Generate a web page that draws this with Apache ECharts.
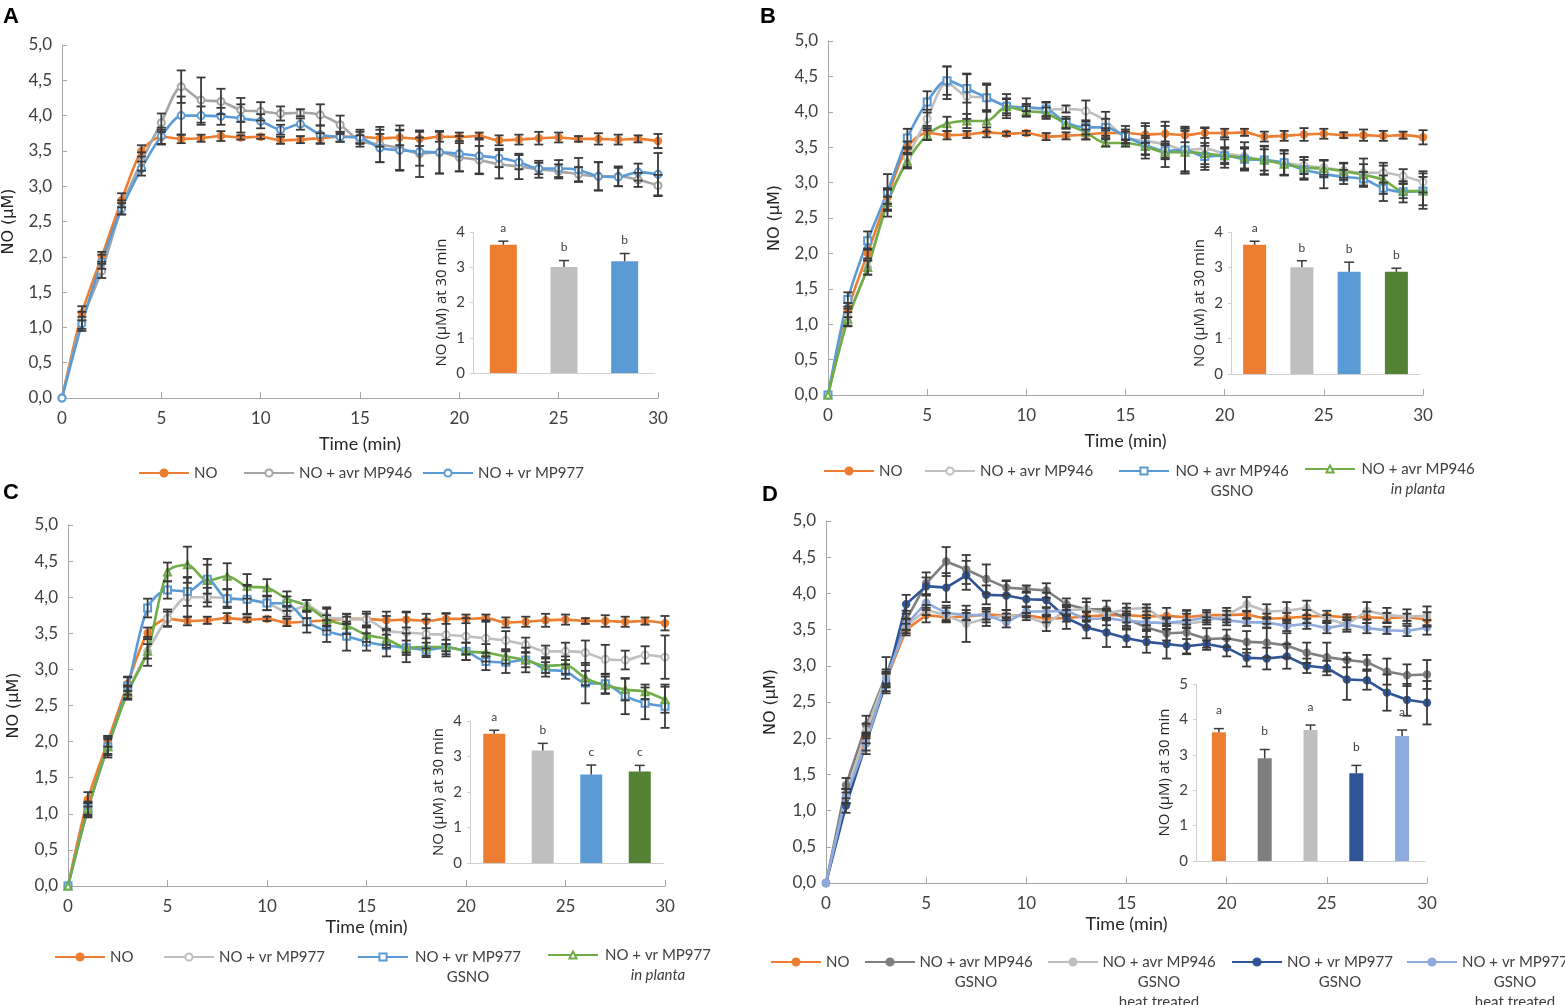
<!DOCTYPE html>
<html>
<head>
<meta charset="utf-8">
<script src="https://cdn.jsdelivr.net/npm/echarts@6/dist/echarts.min.js"></script>
<style>
  html, body { margin: 0; padding: 0; background: #fff; overflow: hidden; }
  #chart { width: 1565px; height: 1005px; }
</style>
</head>
<body>
<div id="chart"></div>
<script>
// time points (min)
const minutes = [0, 1, 2, 3, 4, 5, 6, 7, 8, 9, 10, 11, 12, 13, 14, 15, 16, 17, 18, 19, 20, 21, 22, 23, 24, 25, 26, 27, 28, 29, 30];

// NO (control)
const noMean = [0, 1.2, 2.0, 2.8, 3.5, 3.7, 3.67, 3.68, 3.71, 3.69, 3.7, 3.65, 3.66, 3.68, 3.7, 3.7, 3.68, 3.69, 3.67, 3.7, 3.7, 3.71, 3.65, 3.66, 3.68, 3.69, 3.67, 3.67, 3.66, 3.67, 3.64];
const noErr = [0, 0.1, 0.07, 0.1, 0.08, 0.1, 0.06, 0.05, 0.07, 0.03, 0.03, 0.05, 0.05, 0.07, 0.07, 0.1, 0.12, 0.11, 0.1, 0.07, 0.06, 0.05, 0.07, 0.07, 0.09, 0.07, 0.04, 0.08, 0.07, 0.05, 0.1];
// NO + avr MP946
const avrMean = [0, 1.1, 1.8, 2.7, 3.35, 3.9, 4.41, 4.22, 4.2, 4.08, 4.06, 4.03, 4.04, 4.01, 3.87, 3.64, 3.59, 3.54, 3.46, 3.48, 3.41, 3.37, 3.31, 3.28, 3.24, 3.21, 3.17, 3.14, 3.14, 3.09, 3.01];
const avrErr = [0, 0.12, 0.1, 0.1, 0.13, 0.13, 0.23, 0.32, 0.18, 0.17, 0.13, 0.1, 0.05, 0.15, 0.13, 0.08, 0.25, 0.32, 0.33, 0.3, 0.2, 0.2, 0.2, 0.18, 0.12, 0.1, 0.1, 0.2, 0.14, 0.1, 0.15];
// NO + vr MP977
const vrMean = [0, 1.05, 1.93, 2.68, 3.25, 3.71, 4.0, 4.0, 3.99, 3.96, 3.92, 3.8, 3.88, 3.73, 3.7, 3.69, 3.54, 3.51, 3.49, 3.48, 3.46, 3.43, 3.4, 3.34, 3.25, 3.25, 3.23, 3.14, 3.13, 3.2, 3.17];
const vrErr = [0, 0.1, 0.1, 0.08, 0.1, 0.12, 0.27, 0.13, 0.12, 0.2, 0.1, 0.07, 0.08, 0.13, 0.07, 0.08, 0.2, 0.28, 0.2, 0.3, 0.25, 0.25, 0.13, 0.1, 0.08, 0.12, 0.17, 0.2, 0.13, 0.12, 0.3];
// NO + avr MP946 GSNO
const avrGsnoMean = [0, 1.35, 2.18, 2.87, 3.63, 4.14, 4.44, 4.33, 4.2, 4.08, 4.06, 4.04, 3.85, 3.78, 3.78, 3.65, 3.53, 3.45, 3.46, 3.37, 3.38, 3.33, 3.32, 3.28, 3.18, 3.12, 3.08, 3.05, 2.92, 2.87, 2.88];
const avrGsnoErr = [0, 0.1, 0.13, 0.25, 0.13, 0.15, 0.2, 0.2, 0.2, 0.1, 0.05, 0.1, 0.08, 0.1, 0.12, 0.1, 0.13, 0.1, 0.3, 0.15, 0.12, 0.15, 0.2, 0.17, 0.14, 0.2, 0.1, 0.1, 0.18, 0.15, 0.2];
// NO + avr MP946 in planta
const avrPlantaMean = [0, 1.07, 1.8, 2.72, 3.3, 3.67, 3.83, 3.87, 3.87, 4.07, 4.01, 3.98, 3.83, 3.71, 3.56, 3.56, 3.51, 3.43, 3.43, 3.41, 3.38, 3.35, 3.32, 3.26, 3.21, 3.2, 3.16, 3.11, 3.04, 2.88, 2.88];
const avrPlantaErr = [0, 0.1, 0.1, 0.2, 0.1, 0.07, 0.1, 0.1, 0.15, 0.12, 0.07, 0.08, 0.07, 0.1, 0.05, 0.05, 0.12, 0.1, 0.3, 0.15, 0.1, 0.15, 0.15, 0.15, 0.15, 0.12, 0.12, 0.15, 0.2, 0.1, 0.25];
// NO + vr MP977 GSNO
const vrGsnoMean = [0, 1.07, 1.93, 2.77, 3.85, 4.1, 4.08, 4.25, 3.98, 3.97, 3.92, 3.91, 3.66, 3.53, 3.46, 3.38, 3.33, 3.3, 3.27, 3.3, 3.25, 3.11, 3.1, 3.13, 3.0, 2.97, 2.81, 2.8, 2.63, 2.53, 2.49];
const vrGsnoErr = [0, 0.1, 0.15, 0.12, 0.13, 0.12, 0.2, 0.2, 0.13, 0.2, 0.1, 0.1, 0.15, 0.15, 0.2, 0.12, 0.15, 0.2, 0.1, 0.05, 0.12, 0.12, 0.15, 0.17, 0.1, 0.1, 0.28, 0.13, 0.25, 0.22, 0.3];
// NO + vr MP977 in planta
const vrPlantaMean = [0, 1.07, 1.93, 2.68, 3.25, 4.35, 4.45, 4.23, 4.29, 4.15, 4.13, 3.98, 3.88, 3.69, 3.61, 3.48, 3.42, 3.3, 3.31, 3.31, 3.25, 3.23, 3.18, 3.13, 3.05, 3.06, 2.88, 2.78, 2.72, 2.69, 2.58];
const vrPlantaErr = [0, 0.08, 0.12, 0.1, 0.2, 0.13, 0.25, 0.3, 0.18, 0.17, 0.12, 0.1, 0.08, 0.15, 0.12, 0.1, 0.12, 0.1, 0.12, 0.1, 0.12, 0.12, 0.1, 0.1, 0.1, 0.12, 0.1, 0.12, 0.15, 0.1, 0.18];
// NO + avr MP946 GSNO heat treated
const avrHeatMean = [0, 1.2, 2.1, 2.85, 3.55, 3.77, 3.7, 3.58, 3.65, 3.7, 3.68, 3.58, 3.77, 3.78, 3.72, 3.78, 3.8, 3.6, 3.58, 3.62, 3.7, 3.85, 3.75, 3.76, 3.8, 3.65, 3.57, 3.76, 3.7, 3.68, 3.69];
const avrHeatErr = [0, 0.1, 0.1, 0.1, 0.1, 0.07, 0.1, 0.25, 0.1, 0.07, 0.05, 0.1, 0.07, 0.15, 0.07, 0.08, 0.05, 0.05, 0.05, 0.05, 0.1, 0.1, 0.1, 0.12, 0.1, 0.05, 0.1, 0.12, 0.1, 0.1, 0.13];
// NO + vr MP977 GSNO heat treated
const vrHeatMean = [0, 1.2, 1.93, 2.82, 3.57, 3.87, 3.73, 3.7, 3.7, 3.6, 3.75, 3.75, 3.76, 3.64, 3.66, 3.62, 3.6, 3.59, 3.62, 3.67, 3.63, 3.6, 3.6, 3.55, 3.58, 3.52, 3.57, 3.52, 3.49, 3.48, 3.53];
const vrHeatErr = [0, 0.1, 0.1, 0.1, 0.08, 0.1, 0.1, 0.07, 0.1, 0.07, 0.06, 0.05, 0.07, 0.1, 0.1, 0.1, 0.1, 0.08, 0.1, 0.07, 0.07, 0.05, 0.07, 0.07, 0.07, 0.07, 0.07, 0.07, 0.05, 0.07, 0.1];

// insets: NO at 30 min
const barAValues = [3.64, 3.01, 3.17];
const barAErr = [0.1, 0.18, 0.22];
const barALetters = ['a', 'b', 'b'];
const barBValues = [3.64, 3.01, 2.88, 2.88];
const barBErr = [0.1, 0.18, 0.27, 0.1];
const barBLetters = ['a', 'b', 'b', 'b'];
const barCValues = [3.64, 3.17, 2.49, 2.58];
const barCErr = [0.1, 0.2, 0.27, 0.17];
const barCLetters = ['a', 'b', 'c', 'c'];
const barDValues = [3.64, 2.9, 3.7, 2.48, 3.53];
const barDErr = [0.1, 0.25, 0.14, 0.22, 0.17];
const barDLetters = ['a', 'b', 'a', 'b', 'a'];

const timeTicks = [0, 5, 10, 15, 20, 25, 30];

const ORANGE = '#ED7D31', GRAY = '#A5A5A5', LGRAY = '#BFBFBF', BLUE = '#5B9BD5',
  GREEN = '#70AD47', DGREEN = '#548235', DGRAY = '#7F7F7F', NAVY = '#2F5597', LBLUE = '#8FAADC';
const TICKFONT = 'Lato, "Open Sans", sans-serif';
const AXISCOL = '#A6A6A6';
const ERRCOL = '#3A3A3A';

const chart = echarts.init(document.getElementById('chart'));

const grids = [
  { left: 62, top: 45, width: 596, height: 353 },    // A main
  { left: 473, top: 232, width: 182, height: 141 },  // A inset
  { left: 828, top: 41, width: 595, height: 354 },   // B main
  { left: 1231, top: 232, width: 189, height: 142 }, // B inset
  { left: 68, top: 525, width: 597, height: 361 },   // C main
  { left: 470, top: 721, width: 194, height: 142 },  // C inset
  { left: 826, top: 521, width: 601, height: 362 },  // D main
  { left: 1196, top: 684, width: 229, height: 177 }  // D inset
];

const xAxes = [], yAxes = [], series = [], legends = [];

function mainAxes (gi, nameGapX, nameGapY) {
  xAxes.push({
    gridIndex: gi, type: 'value', min: 0, max: 30, interval: 5,
    name: 'Time (min)', nameLocation: 'middle', nameGap: nameGapX,
    nameTextStyle: { fontFamily: TICKFONT, fontSize: 18, color: '#262626' },
    axisLine: { lineStyle: { color: AXISCOL } },
    axisTick: { show: true, inside: true, length: 6, lineStyle: { color: AXISCOL } },
    axisLabel: { fontFamily: TICKFONT, fontSize: 17, color: '#404040', margin: 12,
      customValues: timeTicks },
    splitLine: { show: false }
  });
  yAxes.push({
    gridIndex: gi, type: 'value', min: 0, max: 5, interval: 0.5,
    name: 'NO (µM)', nameLocation: 'middle', nameGap: nameGapY, nameRotate: 90,
    nameTextStyle: { fontFamily: '"DejaVu Sans", sans-serif', fontSize: 16, color: '#262626' },
    axisLine: { show: true, lineStyle: { color: AXISCOL } },
    axisTick: { show: true, inside: true, length: 5, lineStyle: { color: AXISCOL } },
    axisLabel: { fontFamily: TICKFONT, fontSize: 17, color: '#404040', margin: 10,
      formatter: v => v.toFixed(1).replace('.', ',') },
    splitLine: { show: false }
  });
}

function insetAxes (gi, names, yMax) {
  xAxes.push({
    gridIndex: gi, type: 'category', data: names,
    axisLine: { lineStyle: { color: '#D0D0D0' } },
    axisTick: { show: false }, axisLabel: { show: false }
  });
  yAxes.push({
    gridIndex: gi, type: 'value', min: 0, max: yMax, interval: 1,
    name: 'NO (µM) at 30 min', nameLocation: 'middle', nameGap: 24, nameRotate: 90,
    nameTextStyle: { fontFamily: '"Open Sans", sans-serif', fontSize: 15, color: '#262626' },
    axisLine: { show: true, lineStyle: { color: '#D0D0D0' } },
    axisTick: { show: true, length: 3, lineStyle: { color: '#D0D0D0' } },
    axisLabel: { fontFamily: TICKFONT, fontSize: 15, color: '#404040', margin: 8 },
    splitLine: { show: false }
  });
}

function errRender (params, api) {
  const e = api.value(2);
  if (!e) return null;
  const x = api.value(0), m = api.value(1);
  const top = api.coord([x, m + e]);
  const bot = api.coord([x, m - e]);
  const w = 4.5;
  const st = { stroke: ERRCOL, lineWidth: 1.8 };
  return {
    type: 'group',
    children: [
      { type: 'line', shape: { x1: top[0], y1: top[1], x2: bot[0], y2: bot[1] }, style: st },
      { type: 'line', shape: { x1: top[0] - w, y1: top[1], x2: top[0] + w, y2: top[1] }, style: st },
      { type: 'line', shape: { x1: bot[0] - w, y1: bot[1], x2: bot[0] + w, y2: bot[1] }, style: st }
    ]
  };
}

function addLine (gi, id, mean, err, color, symbol, smooth) {
  series.push({
    type: 'line', name: id, xAxisIndex: gi, yAxisIndex: gi,
    data: minutes.map((m, i) => [m, mean[i]]),
    symbol: symbol, symbolSize: 7, smooth: smooth,
    lineStyle: { color: color, width: 2.6 },
    itemStyle: { color: color, borderColor: color, borderWidth: 1.4 },
    emphasis: { disabled: true }, z: 2
  });
  series.push({
    type: 'custom', xAxisIndex: gi, yAxisIndex: gi, renderItem: errRender,
    data: minutes.map((m, i) => [m, mean[i], err[i]]),
    encode: { x: 0, y: 1 }, silent: true, z: 3
  });
}

function addBars (gi, values, errs, letters, colors, barWidth, letterGap) {
  series.push({
    type: 'bar', xAxisIndex: gi, yAxisIndex: gi, barWidth: barWidth,
    data: values.map((v, i) => ({ value: v, itemStyle: { color: colors[i] } })),
    silent: true, z: 4
  });
  series.push({
    type: 'custom', xAxisIndex: gi, yAxisIndex: gi, silent: true, z: 5,
    data: values.map((v, i) => [i, v, errs[i]]),
    encode: { x: 0, y: 1 },
    renderItem: function (params, api) {
      const i = api.value(0), v = api.value(1), e = api.value(2);
      const p0 = api.coord([i, v]);
      const p1 = api.coord([i, v + e]);
      const st = { stroke: ERRCOL, lineWidth: 1.5 };
      return {
        type: 'group',
        children: [
          { type: 'line', shape: { x1: p0[0], y1: p0[1], x2: p1[0], y2: p1[1] }, style: st },
          { type: 'line', shape: { x1: p1[0] - 5, y1: p1[1], x2: p1[0] + 5, y2: p1[1] }, style: st },
          { type: 'text', x: p1[0], y: p1[1] - letterGap,
            style: { text: letters[params.dataIndex], fill: '#404040', fontSize: 12,
              fontFamily: TICKFONT, align: 'center', verticalAlign: 'bottom' } }
        ]
      };
    }
  });
}

const legendLabels = {};
function addLegend (id, lines, x, yc, width, italicLast) {
  legendLabels[id] = lines;
  const n = lines.length;
  legends.push({
    data: [id], left: x, top: yc - (2 * n - 1) * 10, padding: 0,
    itemWidth: 50, itemHeight: 9, selectedMode: false,
    formatter: function (name) {
      const ls = legendLabels[name];
      if (ls.length === 1) return ls[0];
      const out = [];
      for (let k = 1; k < ls.length; k++) out.push('{b| }');
      ls.forEach((l, k) => {
        const tag = (italicLast && k === ls.length - 1) ? 'ci' : 'c';
        out.push('{' + tag + '|' + l + '}');
      });
      return out.join('\n');
    },
    textStyle: {
      fontFamily: TICKFONT, fontSize: 15, color: '#404040', lineHeight: 20,
      rich: {
        b: { lineHeight: 20, fontSize: 15 },
        c: { width: width, align: 'center', lineHeight: 20, fontSize: 15, fontFamily: TICKFONT, color: '#404040' },
        ci: { width: width, align: 'center', lineHeight: 20, fontSize: 15, fontFamily: TICKFONT, color: '#404040', fontStyle: 'italic' }
      }
    }
  });
}

// ---- Panel A
mainAxes(0, 37, 45);
addLine(0, 'A:NO', noMean, noErr, ORANGE, 'circle', 0.25);
addLine(0, 'A:avr', avrMean, avrErr, GRAY, 'emptyCircle', 0.25);
addLine(0, 'A:vr', vrMean, vrErr, BLUE, 'emptyCircle', 0.25);
insetAxes(1, ['NO', 'NO + avr MP946', 'NO + vr MP977'], 4);
addBars(1, barAValues, barAErr, barALetters, [ORANGE, LGRAY, BLUE], 27, 7);
addLegend('A:NO', ['NO'], 138, 473, 30, false);
addLegend('A:avr', ['NO + avr MP946'], 243, 473, 116, false);
addLegend('A:vr', ['NO + vr MP977'], 422, 473, 110, false);

// ---- Panel B
mainAxes(2, 37, 45);
addLine(2, 'B:NO', noMean, noErr, ORANGE, 'circle', 0.3);
addLine(2, 'B:avr', avrMean, avrErr, LGRAY, 'emptyCircle', 0.3);
addLine(2, 'B:gsno', avrGsnoMean, avrGsnoErr, BLUE, 'emptyRect', 0.3);
addLine(2, 'B:planta', avrPlantaMean, avrPlantaErr, GREEN, 'emptyTriangle', 0.3);
insetAxes(3, ['NO', 'NO + avr MP946', 'GSNO', 'in planta'], 4);
addBars(3, barBValues, barBErr, barBLetters, [ORANGE, LGRAY, BLUE, DGREEN], 23, 7);
addLegend('B:NO', ['NO'], 823, 471, 30, false);
addLegend('B:avr', ['NO + avr MP946'], 924, 471, 116, false);
addLegend('B:gsno', ['NO + avr MP946', 'GSNO'], 1118, 471, 116, false);
addLegend('B:planta', ['NO + avr MP946', 'in planta'], 1304, 469, 116, true);

// ---- Panel C
mainAxes(4, 32, 46);
addLine(4, 'C:NO', noMean, noErr, ORANGE, 'circle', 0.3);
addLine(4, 'C:vr', vrMean, vrErr, LGRAY, 'emptyCircle', 0.3);
addLine(4, 'C:gsno', vrGsnoMean, vrGsnoErr, BLUE, 'emptyRect', 0.3);
addLine(4, 'C:planta', vrPlantaMean, vrPlantaErr, GREEN, 'emptyTriangle', 0.3);
insetAxes(5, ['NO', 'NO + vr MP977', 'GSNO', 'in planta'], 4);
addBars(5, barCValues, barCErr, barCLetters, [ORANGE, LGRAY, BLUE, DGREEN], 22, 7);
addLegend('C:NO', ['NO'], 54, 957, 30, false);
addLegend('C:vr', ['NO + vr MP977'], 163, 957, 110, false);
addLegend('C:gsno', ['NO + vr MP977', 'GSNO'], 357, 957, 110, false);
addLegend('C:planta', ['NO + vr MP977', 'in planta'], 547, 955, 110, true);

// ---- Panel D
mainAxes(6, 32, 47);
addLine(6, 'D:NO', noMean, noErr, ORANGE, 'circle', false);
addLine(6, 'D:avrGsno', avrGsnoMean, avrGsnoErr, DGRAY, 'circle', false);
addLine(6, 'D:avrHeat', avrHeatMean, avrHeatErr, LGRAY, 'circle', false);
addLine(6, 'D:vrGsno', vrGsnoMean, vrGsnoErr, NAVY, 'circle', false);
addLine(6, 'D:vrHeat', vrHeatMean, vrHeatErr, LBLUE, 'circle', false);
insetAxes(7, ['NO', 'avr GSNO', 'avr heat', 'vr GSNO', 'vr heat'], 5);
addBars(7, barDValues, barDErr, barDLetters, [ORANGE, DGRAY, LGRAY, NAVY, LBLUE], 14, 12);
addLegend('D:NO', ['NO'], 770, 962, 30, false);
addLegend('D:avrGsno', ['NO + avr MP946', 'GSNO'], 864, 962, 112, false);
addLegend('D:avrHeat', ['NO + avr MP946', 'GSNO', 'heat treated'], 1047, 962, 112, false);
addLegend('D:vrGsno', ['NO + vr MP977', 'GSNO'], 1231, 962, 106, false);
addLegend('D:vrHeat', ['NO + vr MP977', 'GSNO', 'heat treated'], 1406, 962, 106, false);

const panelLetter = (t, x, y) => ({
  type: 'text', left: x, top: y,
  style: { text: t, font: 'bold 22px "Liberation Sans", Arial, sans-serif', fill: '#000' }
});

chart.setOption({
  animation: false,
  backgroundColor: '#fff',
  grid: grids,
  xAxis: xAxes,
  yAxis: yAxes,
  legend: legends,
  series: series,
  graphic: [
    panelLetter('A', 3, 6),
    panelLetter('B', 760, 6),
    panelLetter('C', 3, 482),
    panelLetter('D', 762, 484)
  ]
});
</script>
</body>
</html>
